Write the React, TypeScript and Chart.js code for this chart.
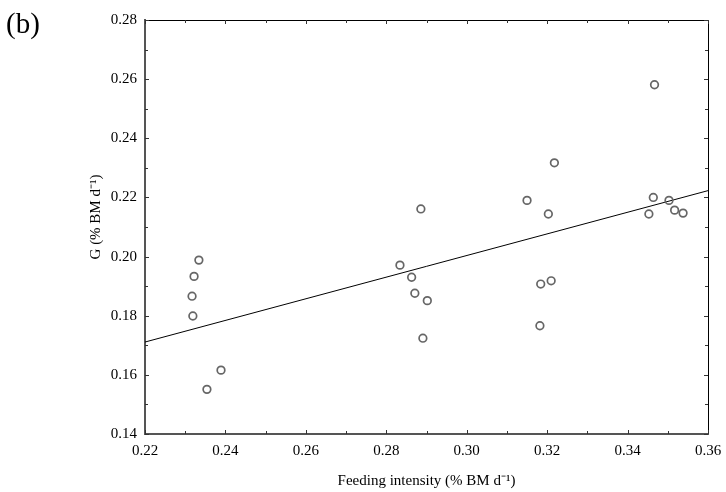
import React, { useEffect, useRef } from "react";
import { Chart, registerables } from "chart.js";

Chart.register(...registerables);

const feedingIntensity = [
  0.2334, 0.2322, 0.2317, 0.2319, 0.2389, 0.2354,
  0.2834, 0.2863, 0.2871, 0.2902, 0.2886, 0.2891,
  0.315, 0.3203, 0.3218, 0.3184, 0.321, 0.3182,
  0.3467, 0.3464, 0.3503, 0.3453, 0.3517, 0.3538,
];
const growthG = [
  0.1988, 0.1933, 0.1866, 0.1799, 0.1616, 0.1551,
  0.1971, 0.193, 0.1876, 0.1851, 0.2161, 0.1724,
  0.219, 0.2144, 0.2317, 0.1907, 0.1918, 0.1766,
  0.2581, 0.22, 0.219, 0.2144, 0.2157, 0.2147,
];
const fitX = [0.22, 0.36];
const fitY = [0.1711, 0.2223];

const xTicks = [0.22, 0.24, 0.26, 0.28, 0.3, 0.32, 0.34, 0.36];
const yTicks = [0.14, 0.16, 0.18, 0.2, 0.22, 0.24, 0.26, 0.28];

const panelLabel = "(b)";
const xTitle = "Feeding intensity (% BM d⁻¹)";
const yTitle = "G (% BM d⁻¹)";

const SERIF = "'Liberation Serif', 'Times New Roman', serif";

const framePlugin = {
  id: "frame",
  afterDraw(chart: any) {
    const { ctx, chartArea } = chart;
    const xs = chart.scales.x;
    const ys = chart.scales.y;
    const { left, right, top, bottom } = chartArea;
    ctx.save();
    // top and right frame
    ctx.strokeStyle = "#000";
    ctx.lineWidth = 1;
    ctx.beginPath();
    ctx.moveTo(left, top + 0.5);
    ctx.lineTo(right + 0.5, top + 0.5);
    ctx.lineTo(right + 0.5, bottom);
    ctx.stroke();
    // inward ticks
    const drawX = (v: number, len: number) => {
      const px = Math.round(xs.getPixelForValue(v)) + 0.5;
      ctx.beginPath();
      ctx.moveTo(px, bottom);
      ctx.lineTo(px, bottom - len);
      ctx.moveTo(px, top);
      ctx.lineTo(px, top + len);
      ctx.stroke();
    };
    const drawY = (v: number, len: number) => {
      const py = Math.round(ys.getPixelForValue(v)) + 0.5;
      ctx.beginPath();
      ctx.moveTo(left, py);
      ctx.lineTo(left + len, py);
      ctx.moveTo(right, py);
      ctx.lineTo(right - len, py);
      ctx.stroke();
    };
    ctx.strokeStyle = "#333";
    for (let i = 0; i < xTicks.length; i++) {
      drawX(xTicks[i], 4);
      if (i < xTicks.length - 1) drawX((xTicks[i] + xTicks[i + 1]) / 2, 3);
    }
    for (let i = 0; i < yTicks.length; i++) {
      drawY(yTicks[i], 4);
      if (i < yTicks.length - 1) drawY((yTicks[i] + yTicks[i + 1]) / 2, 3);
    }
    // y axis title (slightly above centre, as in the original)
    ctx.fillStyle = "#000";
    ctx.font = `15px ${SERIF}`;
    ctx.save();
    ctx.translate(96, 217);
    ctx.rotate(-Math.PI / 2);
    ctx.textAlign = "center";
    ctx.textBaseline = "middle";
    ctx.fillText(yTitle, 0, 0);
    ctx.restore();
    // panel label
    ctx.font = `29px ${SERIF}`;
    ctx.textAlign = "left";
    ctx.textBaseline = "alphabetic";
    ctx.fillText(panelLabel, 6, 33);
    ctx.restore();
  },
};

export default function App() {
  const ref = useRef<HTMLCanvasElement | null>(null);
  useEffect(() => {
    if (!ref.current) return;
    const chart = new Chart(ref.current, {
      type: "scatter",
      data: {
        datasets: [
          {
            type: "line",
            data: fitX.map((x, i) => ({ x, y: fitY[i] })),
            borderColor: "#000",
            borderWidth: 1,
            pointRadius: 0,
            fill: false,
            order: 2,
          } as any,
          {
            data: feedingIntensity.map((x, i) => ({ x, y: growthG[i] })),
            pointStyle: "circle",
            pointRadius: 3.8,
            borderWidth: 1.7,
            borderColor: "#666",
            backgroundColor: "rgba(255,255,255,0)",
            order: 1,
          },
        ],
      },
      options: {
        responsive: false,
        animation: false,
        layout: { padding: { left: 0, top: 20, right: 18, bottom: 0 } },
        plugins: {
          legend: { display: false },
          tooltip: { enabled: false },
        },
        scales: {
          x: {
            type: "linear",
            min: 0.22,
            max: 0.36,
            afterBuildTicks: (s: any) => {
              s.ticks = xTicks.map((v) => ({ value: v }));
            },
            afterFit: (s: any) => {
              s.height = 58;
              s.paddingLeft = 0;
              s.paddingRight = 0;
            },
            grid: { display: false, drawTicks: false },
            border: { display: true, color: "#555", width: 2 },
            ticks: {
              padding: 8,
              color: "#000",
              font: { family: SERIF, size: 15 },
              callback: (v: any) => Number(v).toFixed(2),
              maxRotation: 0,
            },
            title: {
              display: true,
              text: xTitle,
              color: "#000",
              font: { family: SERIF, size: 15 },
              padding: { top: 0, bottom: 2 },
            },
          },
          y: {
            type: "linear",
            min: 0.14,
            max: 0.28,
            afterBuildTicks: (s: any) => {
              s.ticks = yTicks.map((v) => ({ value: v }));
            },
            afterFit: (s: any) => {
              s.width = 145;
              s.paddingTop = 0;
              s.paddingBottom = 0;
            },
            grid: { display: false, drawTicks: false },
            border: { display: true, color: "#555", width: 2 },
            ticks: {
              padding: 8,
              color: "#000",
              font: { family: SERIF, size: 15 },
              callback: (v: any) => Number(v).toFixed(2),
            },
            title: { display: false },
          },
        },
      },
      plugins: [framePlugin],
    });
    return () => chart.destroy();
  }, []);
  return (
    <div style={{ position: "absolute", left: 0, top: 0, width: 726, height: 492, background: "#fff" }}>
      <canvas ref={ref} width={726} height={492} style={{ display: "block" }} />
    </div>
  );
}
